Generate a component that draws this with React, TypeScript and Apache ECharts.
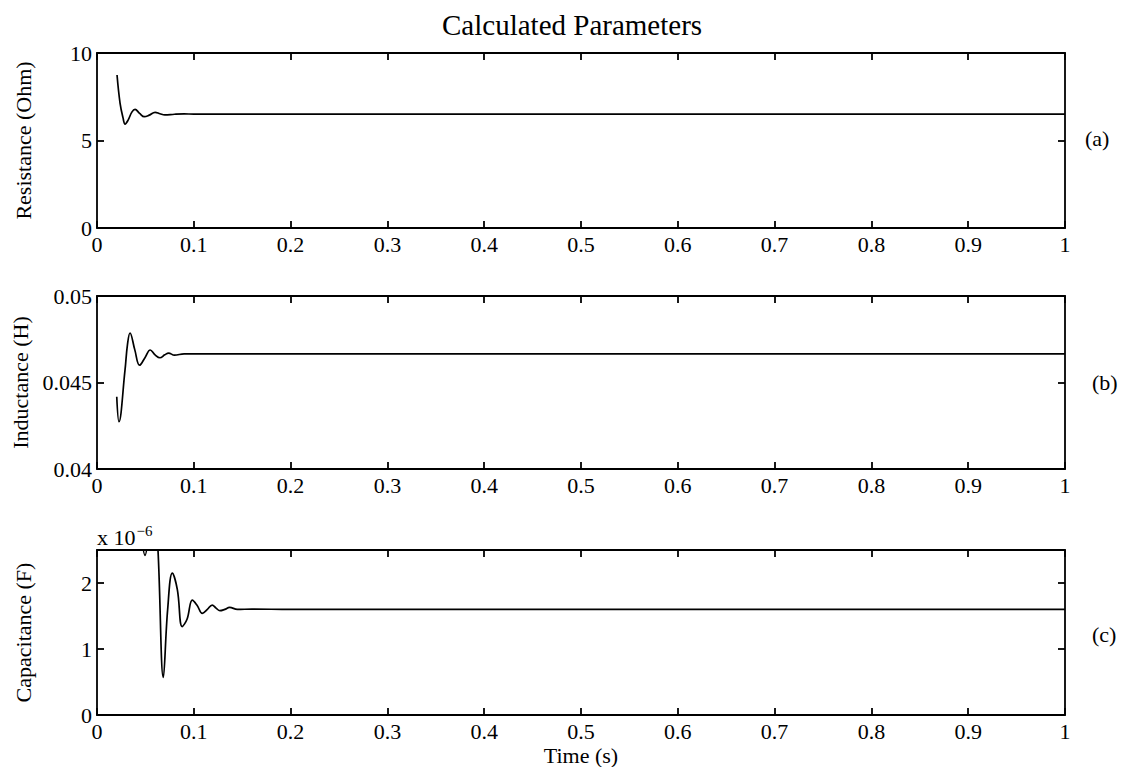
import React, { useEffect, useRef } from "react";
import * as echarts from "echarts";

// ---------- data ----------
const chartTitle = "Calculated Parameters";
const xAxisTitle = "Time (s)";
const panelLetters = ["(a)", "(b)", "(c)"];
const yTitles = ["Resistance (Ohm)", "Inductance (H)", "Capacitance (F)"];
const xTickLabels = ["0", "0.1", "0.2", "0.3", "0.4", "0.5", "0.6", "0.7", "0.8", "0.9", "1"];

// Resistance (Ohm)
const resTime = [0.0207, 0.0238, 0.0269, 0.029, 0.032, 0.036, 0.0393, 0.044, 0.0489, 0.054, 0.06, 0.065, 0.07, 0.08, 0.09, 0.1, 0.15, 0.3, 1.0];
const resValue = [8.74, 7.14, 6.29, 5.94, 6.15, 6.62, 6.78, 6.55, 6.36, 6.45, 6.61, 6.53, 6.46, 6.5, 6.52, 6.51, 6.51, 6.51, 6.51];

// Inductance (H)
const indTime = [0.0204, 0.0227, 0.0289, 0.0315, 0.0341, 0.039, 0.044, 0.0497, 0.055, 0.06, 0.065, 0.07, 0.074, 0.08, 0.09, 0.1, 0.2, 1.0];
const indValue = [0.04418, 0.04273, 0.0457, 0.0472, 0.04786, 0.0469, 0.046, 0.04645, 0.04688, 0.0466, 0.04643, 0.0466, 0.0467, 0.04658, 0.04666, 0.04665, 0.04665, 0.04665];

// Capacitance (x 1e-6 F)
const capTime = [0.02, 0.03, 0.04, 0.046, 0.0496, 0.053, 0.058, 0.063, 0.0685, 0.073, 0.0778, 0.083, 0.088, 0.093, 0.0985, 0.1035, 0.1088, 0.114, 0.119, 0.123, 0.127, 0.132, 0.137, 0.145, 0.16, 0.2, 1.0];
const capValue = [6, 5, 3.6, 2.7, 2.42, 2.7, 3.5, 2.5, 0.57, 1.6, 2.15, 1.9, 1.34, 1.45, 1.74, 1.66, 1.54, 1.6, 1.665, 1.62, 1.58, 1.6, 1.63, 1.6, 1.605, 1.6, 1.6];

const yRanges = [
  { min: 0, max: 10, interval: 5, labels: ["0", "5", "10"] },
  { min: 0.04, max: 0.05, interval: 0.005, labels: ["0.04", "0.045", "0.05"] },
  { min: 0, max: 2.5, interval: 1, labels: ["0", "1", "2"] },
];

// ---------- layout ----------
const FONT = "Liberation Serif";
const grids = [
  { left: 97, right: 61, top: 53, height: 175 },
  { left: 97, right: 61, top: 296, height: 173 },
  { left: 97, right: 61, top: 550, height: 165 },
];

export default function App() {
  const ref = useRef<HTMLDivElement>(null);
  useEffect(() => {
    if (!ref.current) return;
    const chart = echarts.init(ref.current, undefined, { renderer: "svg" });
    const lineStyle = { color: "#000", width: 1.8 };
    const labelStyle = { color: "#000", fontFamily: FONT, fontSize: 22 };
    const xAxes: any[] = [];
    const yAxes: any[] = [];
    const series: any[] = [];
    const datasets = [
      [resTime, resValue],
      [indTime, indValue],
      [capTime, capValue],
    ];
    grids.forEach((g, i) => {
      xAxes.push({
        type: "value", gridIndex: i, position: "bottom", min: 0, max: 1, interval: 0.1,
        axisLine: { onZero: false, lineStyle },
        axisTick: { inside: true, length: 7, lineStyle },
        splitLine: { show: false },
        axisLabel: {
          ...labelStyle, margin: 5,
          formatter: (v: number) => xTickLabels[Math.round(v * 10)] ?? "",
        },
        ...(i === 2
          ? { name: xAxisTitle, nameLocation: "middle", nameGap: 29, nameTextStyle: labelStyle }
          : {}),
      });
      xAxes.push({
        type: "value", gridIndex: i, position: "top", min: 0, max: 1, interval: 0.1,
        axisLine: { onZero: false, lineStyle },
        axisTick: { inside: true, length: 7, lineStyle },
        splitLine: { show: false },
        axisLabel: { show: false },
      });
      const r = yRanges[i];
      yAxes.push({
        type: "value", gridIndex: i, position: "left", min: r.min, max: r.max, interval: r.interval,
        axisLine: { onZero: false, lineStyle },
        axisTick: { inside: true, length: 7, lineStyle },
        splitLine: { show: false },
        axisLabel: {
          ...labelStyle, margin: 5, showMaxLabel: i !== 2,
          formatter: (v: number) => {
            const k = Math.round((v - r.min) / r.interval);
            return r.labels[k] ?? "";
          },
        },
        name: yTitles[i], nameLocation: "middle", nameGap: 63, nameRotate: 90,
        nameTextStyle: labelStyle,
      });
      yAxes.push({
        type: "value", gridIndex: i, position: "right", min: r.min, max: r.max, interval: r.interval,
        axisLine: { onZero: false, lineStyle },
        axisTick: { inside: true, length: 7, lineStyle },
        splitLine: { show: false },
        axisLabel: { show: false },
      });
      const [t, v] = datasets[i];
      series.push({
        type: "line", xAxisIndex: i * 2, yAxisIndex: i * 2,
        data: t.map((x, k) => [x, v[k]]),
        showSymbol: false, symbol: "none", smooth: 0.4, clip: true,
        lineStyle: { color: "#000", width: 1.7 },
      });
    });

    chart.setOption({
      animation: false,
      backgroundColor: "#fff",
      title: {
        text: chartTitle, left: 437, top: 5,
        textStyle: { color: "#000", fontFamily: FONT, fontSize: 29, fontWeight: "normal" },
      },
      grid: grids.map((g) => ({ ...g, containLabel: false })),
      xAxis: xAxes,
      yAxis: yAxes,
      series,
      graphic: [
        { type: "text", left: 1085, top: 127, style: { text: panelLetters[0], fill: "#000", font: `22px '${FONT}'` } },
        { type: "text", left: 1092, top: 371, style: { text: panelLetters[1], fill: "#000", font: `22px '${FONT}'` } },
        { type: "text", left: 1092, top: 623, style: { text: panelLetters[2], fill: "#000", font: `22px '${FONT}'` } },
        {
          type: "text", left: 97, top: 523,
          style: {
            text: "{a|x 10}{b|−6}",
            fill: "#000",
            rich: {
              a: { fontFamily: FONT, fontSize: 22, fill: "#000", verticalAlign: "bottom" },
              b: { fontFamily: FONT, fontSize: 15, fill: "#000", verticalAlign: "top", padding: [0, 0, 10, 1] },
            },
          },
        },
      ],
    });
    return () => chart.dispose();
  }, []);
  return (
    <div
      ref={ref}
      style={{ position: "fixed", left: 0, top: 0, width: 1126, height: 767, background: "#fff" }}
    />
  );
}
